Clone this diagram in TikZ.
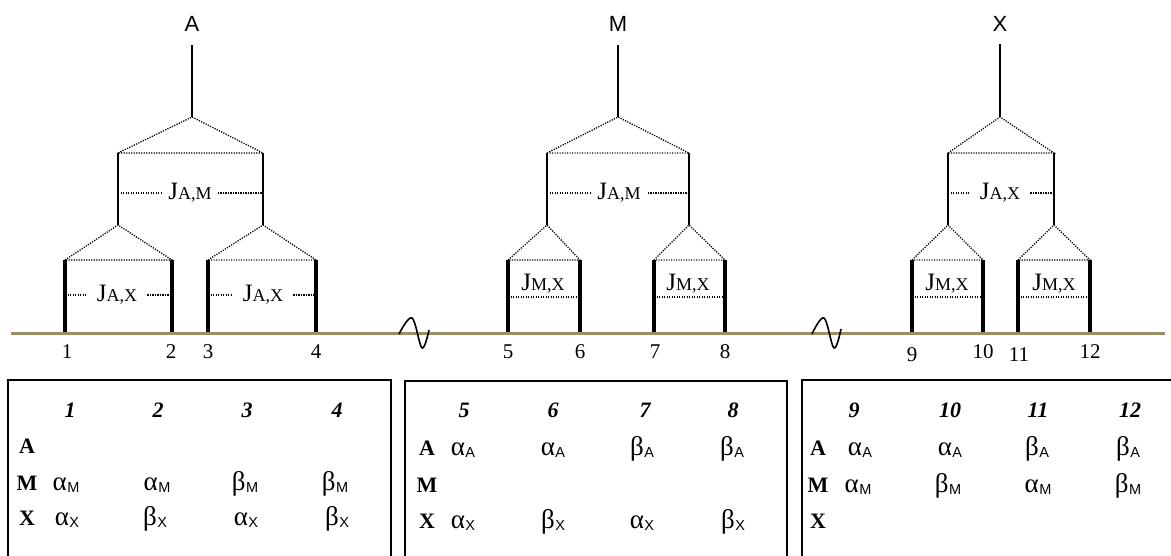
\documentclass[tikz,border=0pt]{standalone}
\usepackage{fontspec}
\setmainfont{Liberation Serif}
\newfontfamily\sansf{Liberation Sans}
\definecolor{basecol}{HTML}{9C8E64}
\newcommand{\Jl}[1]{{\fontsize{25}{25}\selectfont J}{\fontsize{18}{18}\selectfont #1}}
\newcommand{\gs}[2]{#1\kern0.5pt{\sansf\fontsize{14.5}{14.5}\selectfont\raisebox{-2.5pt}{#2}}}
\begin{document}
\begin{tikzpicture}[x=1pt,y=-1pt,
  thinln/.style={line width=1.6pt},
  thickln/.style={line width=3.8pt},
  dotln/.style={line width=1.3pt,dash pattern=on 1.2pt off 1.3pt},
  baseln/.style={line width=3pt,draw=basecol},
  boxln/.style={line width=1.5pt},
  toplbl/.style={font=\sansf\fontsize{22}{22}\selectfont,inner sep=0pt,anchor=base},
  numlbl/.style={font=\fontsize{21}{21}\selectfont,inner sep=0pt,anchor=base},
  hdr/.style={font=\bfseries\itshape\fontsize{22}{22}\selectfont,inner sep=0pt,anchor=base},
  rowlbl/.style={font=\bfseries\fontsize{22}{22}\selectfont,inner sep=0pt,anchor=base},
  ent/.style={font=\fontsize{27}{27}\selectfont,inner sep=0pt,anchor=base},
  jl/.style={inner ysep=0pt,inner xsep=#1},
  jl/.default=7pt]
\useasboundingbox (0,0) rectangle (1171,556);

% ---------------- Tree A ----------------
\node[toplbl] (labA) at (192,32) {A};
\coordinate (aT) at (192,45); \coordinate (aP) at (192,117);
\coordinate (aL) at (118,153); \coordinate (aR) at (263,153);
\coordinate (aLb) at (118,225); \coordinate (aRb) at (263,225);
\draw[thinln] (aT) -- (aP);
\draw[dotln] (aL) -- (aP) -- (aR) -- cycle;
\draw[thinln] (aL) -- (aLb);
\draw[thinln] (aR) -- (aRb);
\node[jl=6pt] (jA) at (190,193) {\Jl{A,M}};
\draw[dotln] (aL |- jA.center) -- (jA.west);
\draw[dotln] (jA.east) -- (aR |- jA.center);
\coordinate (a1t) at (65,260); \coordinate (a2t) at (172,260);
\coordinate (a3t) at (208,260); \coordinate (a4t) at (316,260);
\coordinate (a1) at (65,332); \coordinate (a2) at (172,332);
\coordinate (a3) at (208,332); \coordinate (a4) at (316,332);
\draw[dotln] (a1t) -- (aLb) -- (a2t) -- cycle;
\draw[dotln] (a3t) -- (aRb) -- (a4t) -- cycle;
\foreach \k in {1,2,3,4} \draw[thickln] (a\k t) -- (a\k);
\node[jl=10pt] (jA1) at (117,295) {\Jl{A,X}};
\node[jl=10pt] (jA2) at (263,295) {\Jl{A,X}};
\draw[dotln] (a1t |- jA1.center) -- (jA1.west);
\draw[dotln] (jA1.east) -- (a2t |- jA1.center);
\draw[dotln] (a3t |- jA2.center) -- (jA2.west);
\draw[dotln] (jA2.east) -- (a4t |- jA2.center);

% ---------------- Tree M ----------------
\node[toplbl] (labM) at (618,32) {M};
\coordinate (mT) at (618,45); \coordinate (mP) at (618,117);
\coordinate (mL) at (547,153); \coordinate (mR) at (689,153);
\coordinate (mLb) at (547,225); \coordinate (mRb) at (689,225);
\draw[thinln] (mT) -- (mP);
\draw[dotln] (mL) -- (mP) -- (mR) -- cycle;
\draw[thinln] (mL) -- (mLb);
\draw[thinln] (mR) -- (mRb);
\node[jl=7pt] (jM) at (619,193) {\Jl{A,M}};
\draw[dotln] (mL |- jM.center) -- (jM.west);
\draw[dotln] (jM.east) -- (mR |- jM.center);
\coordinate (m1t) at (508,260); \coordinate (m2t) at (580,260);
\coordinate (m3t) at (654,260); \coordinate (m4t) at (725,260);
\coordinate (m1) at (508,332); \coordinate (m2) at (580,332);
\coordinate (m3) at (654,332); \coordinate (m4) at (725,332);
\draw[dotln] (m1t) -- (mLb) -- (m2t) -- cycle;
\draw[dotln] (m3t) -- (mRb) -- (m4t) -- cycle;
\foreach \k in {1,2,3,4} \draw[thickln] (m\k t) -- (m\k);
\node[jl] (jM1) at (543,284) {\Jl{M,X}};
\node[jl] (jM2) at (688,284) {\Jl{M,X}};
\draw[dotln] (508,297) coordinate (mq1) -- (580,297) coordinate (mq2);
\draw[dotln] (654,297) coordinate (mq3) -- (725,297) coordinate (mq4);

% ---------------- Tree X ----------------
\node[toplbl] (labX) at (1000,32) {X};
\coordinate (xT) at (1000,44); \coordinate (xP) at (1000,117);
\coordinate (xL) at (948,153); \coordinate (xR) at (1054,153);
\coordinate (xLb) at (948,225); \coordinate (xRb) at (1054,225);
\draw[thinln] (xT) -- (xP);
\draw[dotln] (xL) -- (xP) -- (xR) -- cycle;
\draw[thinln] (xL) -- (xLb);
\draw[thinln] (xR) -- (xRb);
\node[jl=10pt] (jX) at (1000,193) {\Jl{A,X}};
\draw[dotln] (xL |- jX.center) -- (jX.west);
\draw[dotln] (jX.east) -- (xR |- jX.center);
\coordinate (x1t) at (912,260); \coordinate (x2t) at (983,260);
\coordinate (x3t) at (1018,260); \coordinate (x4t) at (1090,260);
\coordinate (x1) at (912,332); \coordinate (x2) at (983,332);
\coordinate (x3) at (1018,332); \coordinate (x4) at (1090,332);
\draw[dotln] (x1t) -- (xLb) -- (x2t) -- cycle;
\draw[dotln] (x3t) -- (xRb) -- (x4t) -- cycle;
\foreach \k in {1,2,3,4} \draw[thickln] (x\k t) -- (x\k);
\node[jl] (jX1) at (947,284) {\Jl{M,X}};
\node[jl] (jX2) at (1054,284) {\Jl{M,X}};
\draw[dotln] (912,297) coordinate (xq1) -- (983,297) coordinate (xq2);
\draw[dotln] (1018,297) coordinate (xq3) -- (1090,297) coordinate (xq4);

% ---------------- baseline ----------------
\draw[baseln] (11,334) coordinate (bl0) -- (1165,334) coordinate (bl1);
\draw[thinln,line join=round] plot[smooth,tension=0.6] coordinates {(399,334) (412,318) (422,348) (429,330)};
\draw[thinln,line join=round] plot[smooth,tension=0.6] coordinates {(812,334) (824,318) (834,348) (841,329)};

\foreach \x/\t [count=\i] in {67/1,171/2,208/3,316/4,508/5,580/6,655/7,725/8,983/10,1090/12}
  \node[numlbl] (n\i) at (\x,359) {\t};
\node[numlbl] (n9) at (912,362) {9};
\node[numlbl] (n11) at (1019,362) {11};

% ---------------- tables ----------------
\draw[boxln] (8,560) -- (8,380) coordinate (b1a) -- (391,380) coordinate (b1b) -- (391,560);
\draw[boxln] (405,560) -- (405,381) coordinate (b2a) -- (787,381) coordinate (b2b) -- (787,560);
\draw[boxln] (802,560) -- (802,380) coordinate (b3a) -- (1175,380);

% table 1
\foreach \x/\t [count=\i] in {70/1,158/2,247/3,337/4}
  \node[hdr] (ha\i) at (\x,417) {\t};
\node[rowlbl] (ra1) at (27,453) {A};
\node[rowlbl] (ra2) at (27,490) {M};
\node[rowlbl] (ra3) at (27,525) {X};
\foreach \x/\g [count=\i] in {66/α,157/α,245/β,335/β}
  \node[ent] (ma\i) at (\x,490) {\gs{\g}{M}};
\foreach \x/\g [count=\i] in {67/α,155/β,246/α,337/β}
  \node[ent] (xa\i) at (\x,525) {\gs{\g}{X}};

% table 2
\foreach \x/\t [count=\i] in {464/5,553/6,645/7,733/8}
  \node[hdr] (hb\i) at (\x,417) {\t};
\node[rowlbl] (rb1) at (427,455) {A};
\node[rowlbl] (rb2) at (427,492) {M};
\node[rowlbl] (rb3) at (427,528) {X};
\foreach \x/\g [count=\i] in {463/α,553/α,642/β,732/β}
  \node[ent] (ab\i) at (\x,455) {\gs{\g}{A}};
\foreach \x/\g [count=\i] in {463/α,553/β,642/α,733/β}
  \node[ent] (xb\i) at (\x,528) {\gs{\g}{X}};

% table 3
\foreach \x/\t [count=\i] in {854/9,950/10,1038/11,1130/12}
  \node[hdr] (hc\i) at (\x,417) {\t};
\node[rowlbl] (rc1) at (818,455) {A};
\node[rowlbl] (rc2) at (818,492) {M};
\node[rowlbl] (rc3) at (818,528) {X};
\foreach \x/\g [count=\i] in {860/α,950/α,1037/β,1128/β}
  \node[ent] (ac\i) at (\x,455) {\gs{\g}{A}};
\foreach \x/\g [count=\i] in {858/α,948/β,1038/α,1128/β}
  \node[ent] (mc\i) at (\x,492) {\gs{\g}{M}};
\end{tikzpicture}
\end{document}
